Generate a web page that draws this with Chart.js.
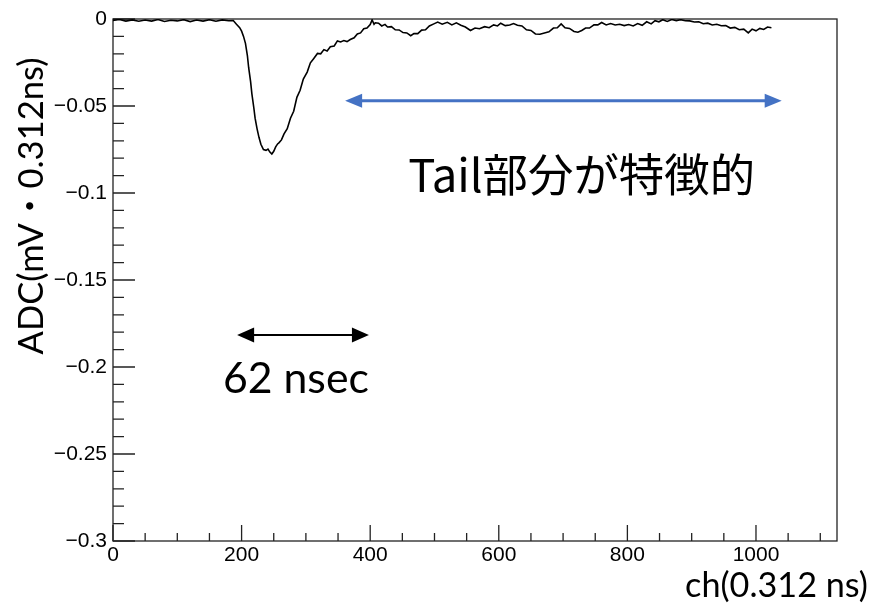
<!DOCTYPE html>
<html>
<head>
<meta charset="utf-8">
<script src="https://cdn.jsdelivr.net/npm/chart.js@4/dist/chart.umd.min.js"></script>
<style>
    html, body { margin: 0; padding: 0; background: #fff; }
    #box { width: 873px; height: 603px; position: relative; }
</style>
</head>
<body>
<div id="box"><canvas id="chartDisplay"></canvas></div>
<script>
"use strict";

// Channel numbers (x) and ADC values (y)
var chX = [0, 10, 20, 30, 40, 50, 60, 70, 80, 90, 100, 110, 120, 130, 140, 150, 160, 170, 180, 187,
    192, 197, 200, 203, 206, 209, 211, 214, 216, 219, 221, 224, 227, 230, 234, 238, 241, 244, 247, 250,
    253, 256, 258, 262, 266, 271, 276, 281, 286, 291, 296, 302, 307, 312, 318, 323, 328, 333, 338, 344,
    349, 354, 359, 364, 369, 375, 380, 385, 390, 395, 400, 403, 406, 408, 413, 418, 423, 427, 433, 439,
    445, 451, 457, 463, 468, 474, 480, 486, 492, 499, 505, 512, 520, 527, 534, 541, 548, 556, 563, 570,
    578, 585, 592, 598, 603, 610, 617, 623, 629, 636, 643, 650, 657, 664, 671, 678, 685, 691, 697, 703,
    710, 717, 723, 729, 735, 741, 748, 754, 760, 767, 774, 781, 788, 795, 802, 809, 816, 823, 830, 837,
    843, 849, 855, 862, 869, 876, 883, 890, 897, 904, 911, 918, 925, 932, 939, 946, 953, 960, 967, 974,
    981, 988, 994, 1000, 1006, 1012, 1018, 1024];
var adcY = [-0.0008, -0.0003, -0.0012, -0.0005, -0.0013, -0.0006, -0.0012, -0.0003, -0.0014, -0.0007, -0.0011, -0.0004, -0.0015, -0.0006, -0.0012, -0.0004, -0.0013, -0.0005, -0.0010, -0.0009,
    -0.0030, -0.0050, -0.0070, -0.0100, -0.0140, -0.0210, -0.0280, -0.0360, -0.0430, -0.0510, -0.0570, -0.0630, -0.0680, -0.0720, -0.0750, -0.0755, -0.0748, -0.0765, -0.0776, -0.0760,
    -0.0735, -0.0718, -0.0712, -0.0695, -0.0660, -0.0630, -0.0570, -0.0530, -0.0450, -0.0410, -0.0345, -0.0305, -0.0252, -0.0228, -0.0198, -0.0200, -0.0176, -0.0184, -0.0160, -0.0155,
    -0.0126, -0.0132, -0.0124, -0.0130, -0.0118, -0.0108, -0.0086, -0.0080, -0.0056, -0.0052, -0.0032, -0.0005, -0.0030, -0.0022, -0.0024, -0.0040, -0.0031, -0.0046, -0.0044, -0.0062,
    -0.0063, -0.0078, -0.0080, -0.0096, -0.0084, -0.0084, -0.0064, -0.0062, -0.0040, -0.0028, -0.0018, -0.0030, -0.0019, -0.0034, -0.0022, -0.0036, -0.0046, -0.0066, -0.0052, -0.0056,
    -0.0044, -0.0050, -0.0034, -0.0040, -0.0024, -0.0038, -0.0034, -0.0026, -0.0036, -0.0040, -0.0062, -0.0066, -0.0086, -0.0088, -0.0080, -0.0074, -0.0052, -0.0050, -0.0028, -0.0050,
    -0.0054, -0.0072, -0.0076, -0.0066, -0.0052, -0.0052, -0.0034, -0.0034, -0.0020, -0.0034, -0.0026, -0.0034, -0.0030, -0.0038, -0.0032, -0.0040, -0.0026, -0.0036, -0.0016, -0.0028,
    -0.0010, -0.0016, -0.0004, -0.0014, -0.0003, -0.0009, -0.0004, -0.0010, -0.0011, -0.0017, -0.0016, -0.0027, -0.0024, -0.0034, -0.0030, -0.0039, -0.0038, -0.0052, -0.0048, -0.0062,
    -0.0058, -0.0080, -0.0058, -0.0068, -0.0054, -0.0060, -0.0046, -0.0050];

// Axis ranges and tick labels
var xRange = [0, 1126];
var yRange = [-0.3, 0];
var xTicks = [0, 200, 400, 600, 800, 1000];
var yTicks = [0, -0.05, -0.1, -0.15, -0.2, -0.25, -0.3];
var xMinorStep = 50;
var yMinorStep = 0.01;

// Texts
var xTitle = "ch(0.312 ns)";
var yTitle = "ADC(mV\u30FB0.312ns)";
var tailLabel = "Tail部分が特徴的";
var widthLabel = "62 nsec";

var latinFont = "Lato, 'Noto Sans CJK JP', sans-serif";
var cjkFont = "'Noto Sans CJK JP', sans-serif";

// Font size that makes a text exactly a given width
function fitSize(ctx, text, family, width) {
    ctx.font = "100px " + family;
    return 100 * width / ctx.measureText(text).width;
}

function drawArrow(ctx, x1, x2, y, color, lw, headLen, headHalf) {
    ctx.save();
    ctx.strokeStyle = color;
    ctx.fillStyle = color;
    ctx.lineWidth = lw;
    ctx.beginPath();
    ctx.moveTo(x1 + headLen - 2, y);
    ctx.lineTo(x2 - headLen + 2, y);
    ctx.stroke();
    ctx.beginPath();
    ctx.moveTo(x1, y);
    ctx.lineTo(x1 + headLen, y - headHalf);
    ctx.lineTo(x1 + headLen, y + headHalf);
    ctx.closePath();
    ctx.fill();
    ctx.beginPath();
    ctx.moveTo(x2, y);
    ctx.lineTo(x2 - headLen, y - headHalf);
    ctx.lineTo(x2 - headLen, y + headHalf);
    ctx.closePath();
    ctx.fill();
    ctx.restore();
}

// ROOT style frame with ticks pointing into the pad
var framePlugin = {
    id: 'rootFrame',
    beforeDatasetsDraw: function (chart) {
        var ctx = chart.ctx, a = chart.chartArea;
        var xs = chart.scales.x, ys = chart.scales.y;
        ctx.save();
        ctx.strokeStyle = '#222';
        ctx.lineWidth = 1.3;
        ctx.strokeRect(a.left, a.top, a.right - a.left, a.bottom - a.top);

        ctx.beginPath();
        for (var v = xRange[0]; v <= xRange[1]; v += xMinorStep) {
            var px = xs.getPixelForValue(v);
            var len = (v % 200 === 0) ? 16 : 8;
            ctx.moveTo(px, a.bottom);
            ctx.lineTo(px, a.bottom - len);
        }
        for (var i = 0; i <= 30; i++) {
            var val = -i * yMinorStep;
            var py = ys.getPixelForValue(val);
            var l = (i % 5 === 0) ? 22 : 11;
            ctx.moveTo(a.left, py);
            ctx.lineTo(a.left + l, py);
        }
        ctx.stroke();
        ctx.restore();
    },
    afterDraw: function (chart) {
        var ctx = chart.ctx;
        var xs = chart.scales.x, ys = chart.scales.y;
        ctx.save();
        ctx.fillStyle = '#000';

        // Axis titles
        var size = fitSize(ctx, xTitle, latinFont, 183);
        ctx.font = size + "px " + latinFont;
        ctx.textAlign = 'right';
        ctx.textBaseline = 'alphabetic';
        ctx.fillText(xTitle, 868, 597);

        size = fitSize(ctx, yTitle, latinFont, 297);
        ctx.font = size + "px " + latinFont;
        ctx.save();
        ctx.translate(43, 206);
        ctx.rotate(-Math.PI / 2);
        ctx.textAlign = 'center';
        ctx.fillText(yTitle, 0, 0);
        ctx.restore();

        // Tail annotation
        drawArrow(ctx, xs.getPixelForValue(361), xs.getPixelForValue(1040), ys.getPixelForValue(-0.047), '#4472C4', 3, 17, 7);
        size = fitSize(ctx, tailLabel, cjkFont, 347);
        ctx.font = size + "px " + cjkFont;
        ctx.textAlign = 'left';
        ctx.fillText(tailLabel, xs.getPixelForValue(459), ys.getPixelForValue(-0.0994));

        // Pulse width annotation
        drawArrow(ctx, xs.getPixelForValue(193), xs.getPixelForValue(398), ys.getPixelForValue(-0.1816), '#000', 2, 17, 7.5);
        size = fitSize(ctx, widthLabel, latinFont, 146);
        ctx.font = size + "px " + latinFont;
        ctx.fillText(widthLabel, xs.getPixelForValue(171), ys.getPixelForValue(-0.2147));
        ctx.restore();
    }
};

var tickFont = { family: "'Liberation Sans', Arial, sans-serif", size: 21 };

var points = chX.map(function (x, i) { return { x: x, y: adcY[i] }; });

var ctx1 = document.getElementById('chartDisplay').getContext('2d');
var chart1 = new Chart(ctx1, {
    type: 'line',
    data: {
        datasets: [{
            data: points,
            borderColor: '#000',
            borderWidth: 1.6,
            pointRadius: 0,
            tension: 0,
            fill: false
        }]
    },
    options: {
        responsive: true,
        maintainAspectRatio: false,
        animation: false,
        layout: { padding: { top: 19, right: 36, left: 0, bottom: 0 } },
        plugins: { legend: { display: false }, tooltip: { enabled: false } },
        scales: {
            x: {
                type: 'linear',
                min: xRange[0],
                max: xRange[1],
                afterBuildTicks: function (scale) { scale.ticks = xTicks.map(function (v) { return { value: v }; }); },
                afterFit: function (scale) { scale.height = 62; },
                grid: { display: false, drawTicks: false, tickLength: 0 },
                border: { display: false },
                ticks: {
                    font: tickFont, color: '#000', padding: 2, maxRotation: 0, autoSkip: false,
                    callback: function (v) { return String(v); }
                }
            },
            y: {
                type: 'linear',
                min: yRange[0],
                max: yRange[1],
                afterBuildTicks: function (scale) { scale.ticks = yTicks.map(function (v) { return { value: v }; }); },
                afterFit: function (scale) { scale.width = 113; },
                grid: { display: false, drawTicks: false, tickLength: 0 },
                border: { display: false },
                ticks: {
                    font: tickFont, color: '#000', padding: 6, autoSkip: false,
                    callback: function (v) { return v === 0 ? '0' : '\u2212' + Math.abs(v); }
                }
            }
        }
    },
    plugins: [framePlugin]
});
</script>
</body>
</html>
